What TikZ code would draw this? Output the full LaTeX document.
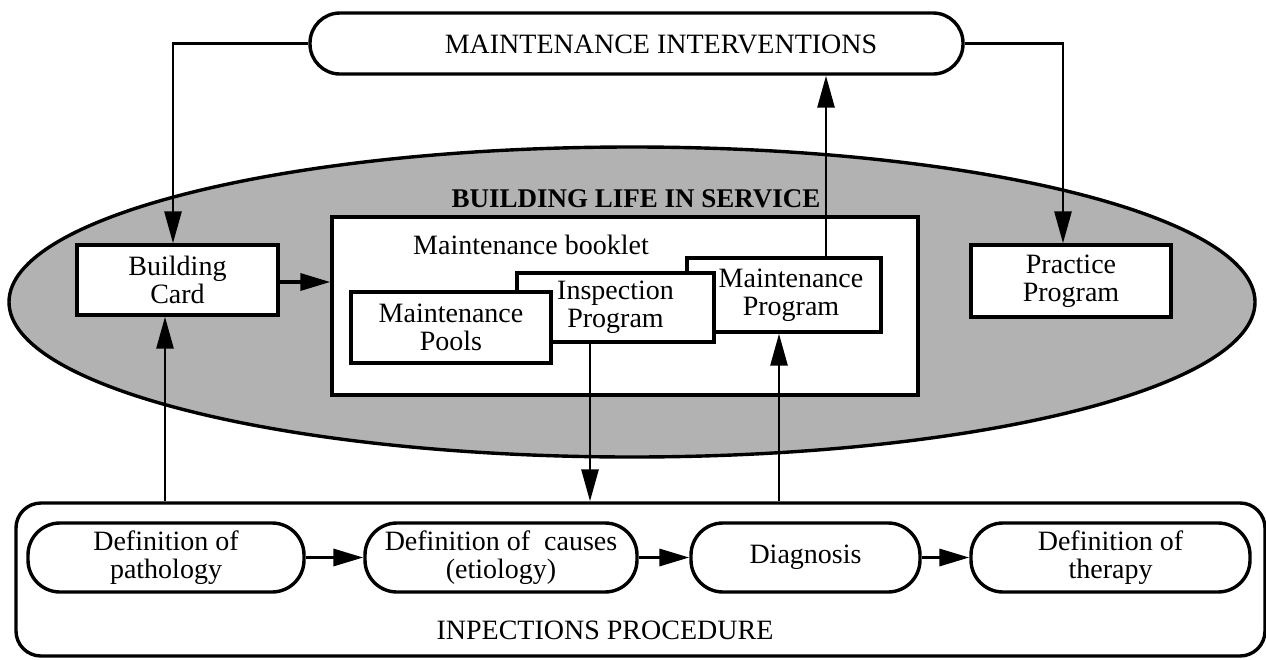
\documentclass[tikz,border=0pt]{standalone}
\usepackage{fontspec}
\setmainfont{Liberation Serif}
\usetikzlibrary{arrows.meta,shapes.geometric}
\tikzset{
  lw/.style={line width=3.4pt},
  arr/.style={line width=3.4pt,-{Triangle[length=30pt,width=17pt]}},
  varr/.style={line width=2.8pt,-{Triangle[length=32pt,width=17pt]}},
  sqbox/.style={draw,lw,fill=white,rectangle,align=center,inner sep=0pt},
  rbox/.style={draw,lw,fill=white,rectangle,rounded corners=32pt,align=center,inner sep=0pt},
  txt/.style={font=\fontsize{28}{28}\selectfont},
}
\begin{document}
\begin{tikzpicture}[x=1pt,y=-1pt,txt]
\useasboundingbox (0,0) rectangle (1266,659);
% ellipse
\node[draw,lw,ellipse,fill=black!30,minimum width=1246pt,minimum height=310pt,inner sep=0pt] (life) at (632,302) {};
\node[font=\fontsize{27}{28}\selectfont\bfseries] (lifelbl) at (636,199) {BUILDING LIFE IN SERVICE};
% top box
\node[rbox,rounded corners=30pt,minimum width=653pt,minimum height=61pt] (top) at (636.5,43.5) {};
\node (toplbl) at (661,44) {MAINTENANCE INTERVENTIONS};
% booklet
\node[sqbox,minimum width=586pt,minimum height=178pt] (booklet) at (625,306) {};
\node (bookletlbl) at (531,245) {Maintenance booklet};
\node[sqbox,minimum width=194pt,minimum height=74pt] (mprog) at (784,295) {\hspace*{14pt}Maintenance\\\hspace*{14pt}Program};
\node[sqbox,minimum width=197pt,minimum height=69pt] (insp) at (615.5,307.5) {Inspection\\Program};
\node[sqbox,minimum width=200pt,minimum height=71pt] (pools) at (451,327.5) {Maintenance\\Pools};
% side boxes
\node[sqbox,minimum width=201pt,minimum height=70pt] (card) at (177.5,280) {Building\\Card};
\node[sqbox,minimum width=200pt,minimum height=72pt] (practice) at (1071,281) {Practice\\Program};
% procedure
\node[rbox,rounded corners=25pt,minimum width=1249pt,minimum height=153pt] (proc) at (640.5,579.5) {};
\node (proclbl) at (605,630) {INPECTIONS PROCEDURE};
\node[rbox,minimum width=276pt,minimum height=69pt] (path) at (166,557.5) {Definition of\\pathology};
\node[rbox,minimum width=272pt,minimum height=69pt] (causes) at (501,557.5) {Definition of\ \ causes\\(etiology)};
\node[rbox,minimum width=229pt,minimum height=69pt] (diag) at (805.5,557.5) {Diagnosis};
\node[rbox,minimum width=279pt,minimum height=69pt] (ther) at (1110.5,557.5) {Definition of\\therapy};
% arrows
\draw[varr] (top.west) -| ([xshift=-4.5pt]card.north);
\draw[varr] (top.east) -| ([xshift=-8pt]practice.north);
\draw[varr] ([xshift=42pt]mprog.north) -- ([xshift=42pt]mprog.north |- top.south);
\draw[varr] ([xshift=-25.5pt]insp.south) -- ([xshift=-25.5pt]insp.south |- proc.north);
\draw[varr] ([xshift=-5pt]mprog.south |- proc.north) -- ([xshift=-5pt]mprog.south);
\draw[varr] ([xshift=-12.5pt]card.south |- proc.north) -- ([xshift=-12.5pt]card.south);
\draw[arr] ([yshift=-2pt]card.east) -- ([yshift=-2pt]card.east -| booklet.west);
\draw[arr] (path.east) -- (causes.west);
\draw[arr] (causes.east) -- (diag.west);
\draw[arr] (diag.east) -- (ther.west);
\end{tikzpicture}
\end{document}
